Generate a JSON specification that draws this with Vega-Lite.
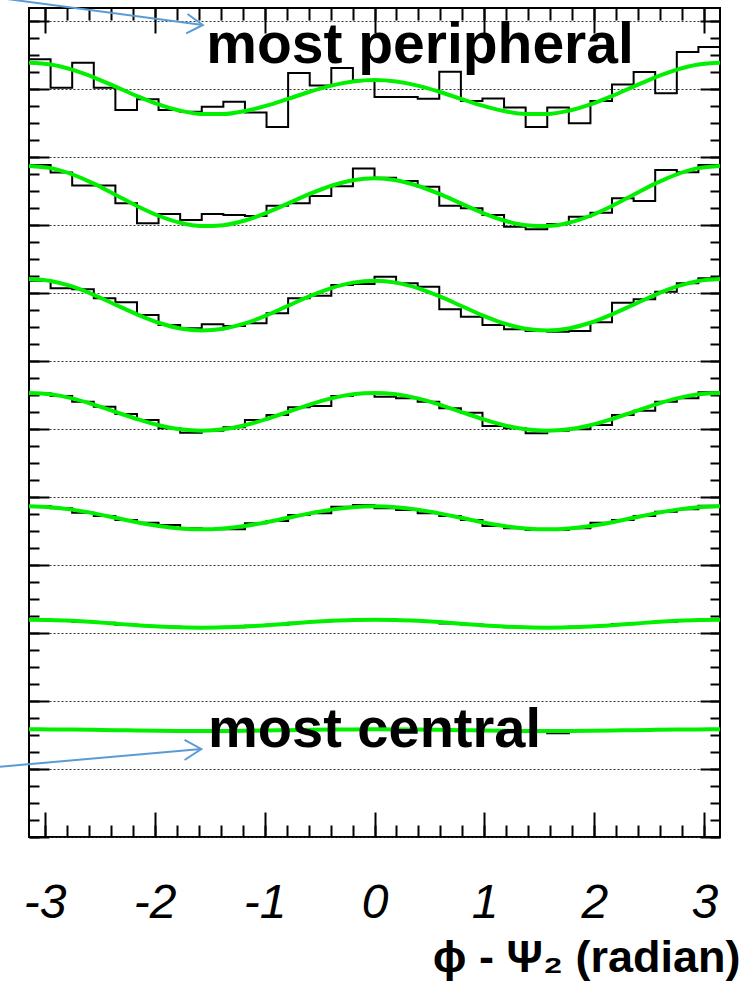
{
"$schema": "https://vega.github.io/schema/vega-lite/v6.json",
"width": 691, "height": 829,
"autosize": {"type": "none"},
"padding": {"left": 29, "top": 8, "right": 23, "bottom": 151},
"background": "white",
"config": {"view": {"stroke": "black", "strokeWidth": 2}, "axis": {"tickColor": "black", "tickWidth": 2, "domain": false, "labels": false, "grid": false}},
"datasets": {
"hist": [
{"b":1,"x":-3.1416,"y":11.432},{"b":1,"x":-2.9452,"y":11.014},{"b":1,"x":-2.7489,"y":11.382},{"b":1,"x":-2.5525,"y":11.014},{"b":1,"x":-2.3562,"y":10.686},{"b":1,"x":-2.1598,"y":10.844},{"b":1,"x":-1.9635,"y":10.686},{"b":1,"x":-1.7671,"y":10.661},{"b":1,"x":-1.5708,"y":10.735},{"b":1,"x":-1.3744,"y":10.808},{"b":1,"x":-1.1781,"y":10.649},{"b":1,"x":-0.9817,"y":10.436},{"b":1,"x":-0.7854,"y":11.230},{"b":1,"x":-0.589,"y":11.046},{"b":1,"x":-0.3927,"y":11.304},{"b":1,"x":-0.1963,"y":11.120},{"b":1,"x":0,"y":10.877},{"b":1,"x":0.1963,"y":10.877},{"b":1,"x":0.3927,"y":10.852},{"b":1,"x":0.589,"y":11.249},{"b":1,"x":0.7854,"y":10.818},{"b":1,"x":0.9817,"y":10.855},{"b":1,"x":1.1781,"y":10.723},{"b":1,"x":1.3744,"y":10.436},{"b":1,"x":1.5708,"y":10.723},{"b":1,"x":1.7671,"y":10.491},{"b":1,"x":1.9635,"y":10.818},{"b":1,"x":2.1598,"y":11.061},{"b":1,"x":2.3562,"y":11.245},{"b":1,"x":2.5525,"y":10.932},{"b":1,"x":2.7489,"y":11.539},{"b":1,"x":2.9452,"y":11.612},{"b":1,"x":3.1416,"y":11.612},
{"b":2,"x":-3.1416,"y":9.878},{"b":2,"x":-2.9452,"y":9.768},{"b":2,"x":-2.7489,"y":9.577},{"b":2,"x":-2.5525,"y":9.577},{"b":2,"x":-2.3562,"y":9.315},{"b":2,"x":-2.1598,"y":9.021},{"b":2,"x":-1.9635,"y":9.158},{"b":2,"x":-1.7671,"y":9.069},{"b":2,"x":-1.5708,"y":9.158},{"b":2,"x":-1.3744,"y":9.143},{"b":2,"x":-1.1781,"y":9.128},{"b":2,"x":-0.9817,"y":9.280},{"b":2,"x":-0.7854,"y":9.315},{"b":2,"x":-0.589,"y":9.422},{"b":2,"x":-0.3927,"y":9.566},{"b":2,"x":-0.1963,"y":9.826},{"b":2,"x":0,"y":9.690},{"b":2,"x":0.1963,"y":9.643},{"b":2,"x":0.3927,"y":9.559},{"b":2,"x":0.589,"y":9.280},{"b":2,"x":0.7854,"y":9.241},{"b":2,"x":0.9817,"y":9.143},{"b":2,"x":1.1781,"y":8.971},{"b":2,"x":1.3744,"y":8.933},{"b":2,"x":1.5708,"y":9.011},{"b":2,"x":1.7671,"y":9.118},{"b":2,"x":1.9635,"y":9.177},{"b":2,"x":2.1598,"y":9.388},{"b":2,"x":2.3562,"y":9.349},{"b":2,"x":2.5525,"y":9.804},{"b":2,"x":2.7489,"y":9.771},{"b":2,"x":2.9452,"y":9.878},{"b":2,"x":3.1416,"y":9.878},
{"b":3,"x":-3.1416,"y":8.177},{"b":3,"x":-2.9452,"y":8.065},{"b":3,"x":-2.7489,"y":8.051},{"b":3,"x":-2.5525,"y":7.918},{"b":3,"x":-2.3562,"y":7.860},{"b":3,"x":-2.1598,"y":7.673},{"b":3,"x":-1.9635,"y":7.526},{"b":3,"x":-1.7671,"y":7.477},{"b":3,"x":-1.5708,"y":7.536},{"b":3,"x":-1.3744,"y":7.511},{"b":3,"x":-1.1781,"y":7.551},{"b":3,"x":-0.9817,"y":7.698},{"b":3,"x":-0.7854,"y":7.918},{"b":3,"x":-0.589,"y":7.957},{"b":3,"x":-0.3927,"y":8.114},{"b":3,"x":-0.1963,"y":8.129},{"b":3,"x":0,"y":8.236},{"b":3,"x":0.1963,"y":8.139},{"b":3,"x":0.3927,"y":8.089},{"b":3,"x":0.589,"y":7.757},{"b":3,"x":0.7854,"y":7.648},{"b":3,"x":0.9817,"y":7.526},{"b":3,"x":1.1781,"y":7.463},{"b":3,"x":1.3744,"y":7.438},{"b":3,"x":1.5708,"y":7.428},{"b":3,"x":1.7671,"y":7.438},{"b":3,"x":1.9635,"y":7.566},{"b":3,"x":2.1598,"y":7.854},{"b":3,"x":2.3562,"y":7.904},{"b":3,"x":2.5525,"y":8.015},{"b":3,"x":2.7489,"y":8.139},{"b":3,"x":2.9452,"y":8.212},{"b":3,"x":3.1416,"y":8.212},
{"b":4,"x":-3.1416,"y":6.522},{"b":4,"x":-2.9452,"y":6.482},{"b":4,"x":-2.7489,"y":6.399},{"b":4,"x":-2.5525,"y":6.325},{"b":4,"x":-2.3562,"y":6.218},{"b":4,"x":-2.1598,"y":6.130},{"b":4,"x":-1.9635,"y":6.008},{"b":4,"x":-1.7671,"y":5.943},{"b":4,"x":-1.5708,"y":5.972},{"b":4,"x":-1.3744,"y":6.022},{"b":4,"x":-1.1781,"y":6.130},{"b":4,"x":-0.9817,"y":6.203},{"b":4,"x":-0.7854,"y":6.316},{"b":4,"x":-0.589,"y":6.335},{"b":4,"x":-0.3927,"y":6.482},{"b":4,"x":-0.1963,"y":6.512},{"b":4,"x":0,"y":6.472},{"b":4,"x":0.1963,"y":6.448},{"b":4,"x":0.3927,"y":6.399},{"b":4,"x":0.589,"y":6.301},{"b":4,"x":0.7854,"y":6.237},{"b":4,"x":0.9817,"y":6.041},{"b":4,"x":1.1781,"y":6.008},{"b":4,"x":1.3744,"y":5.934},{"b":4,"x":1.5708,"y":5.972},{"b":4,"x":1.7671,"y":5.993},{"b":4,"x":1.9635,"y":6.056},{"b":4,"x":2.1598,"y":6.203},{"b":4,"x":2.3562,"y":6.266},{"b":4,"x":2.5525,"y":6.399},{"b":4,"x":2.7489,"y":6.448},{"b":4,"x":2.9452,"y":6.537},{"b":4,"x":3.1416,"y":6.537},
{"b":5,"x":-3.1416,"y":4.865},{"b":5,"x":-2.9452,"y":4.832},{"b":5,"x":-2.7489,"y":4.767},{"b":5,"x":-2.5525,"y":4.718},{"b":5,"x":-2.3562,"y":4.660},{"b":5,"x":-2.1598,"y":4.620},{"b":5,"x":-1.9635,"y":4.586},{"b":5,"x":-1.7671,"y":4.538},{"b":5,"x":-1.5708,"y":4.523},{"b":5,"x":-1.3744,"y":4.523},{"b":5,"x":-1.1781,"y":4.611},{"b":5,"x":-0.9817,"y":4.645},{"b":5,"x":-0.7854,"y":4.733},{"b":5,"x":-0.589,"y":4.758},{"b":5,"x":-0.3927,"y":4.855},{"b":5,"x":-0.1963,"y":4.880},{"b":5,"x":0,"y":4.832},{"b":5,"x":0.1963,"y":4.807},{"b":5,"x":0.3927,"y":4.758},{"b":5,"x":0.589,"y":4.718},{"b":5,"x":0.7854,"y":4.660},{"b":5,"x":0.9817,"y":4.571},{"b":5,"x":1.1781,"y":4.538},{"b":5,"x":1.3744,"y":4.513},{"b":5,"x":1.5708,"y":4.513},{"b":5,"x":1.7671,"y":4.538},{"b":5,"x":1.9635,"y":4.620},{"b":5,"x":2.1598,"y":4.660},{"b":5,"x":2.3562,"y":4.718},{"b":5,"x":2.5525,"y":4.782},{"b":5,"x":2.7489,"y":4.817},{"b":5,"x":2.9452,"y":4.870},{"b":5,"x":3.1416,"y":4.870},
{"b":6,"x":-3.1416,"y":3.19},{"b":6,"x":-2.9452,"y":3.19},{"b":6,"x":-2.7489,"y":3.165},{"b":6,"x":-2.5525,"y":3.15},{"b":6,"x":-2.3562,"y":3.12},{"b":6,"x":-2.1598,"y":3.10},{"b":6,"x":-1.9635,"y":3.09},{"b":6,"x":-1.7671,"y":3.075},{"b":6,"x":-1.5708,"y":3.08},{"b":6,"x":-1.3744,"y":3.085},{"b":6,"x":-1.1781,"y":3.105},{"b":6,"x":-0.9817,"y":3.12},{"b":6,"x":-0.7854,"y":3.15},{"b":6,"x":-0.589,"y":3.17},{"b":6,"x":-0.3927,"y":3.18},{"b":6,"x":-0.1963,"y":3.205},{"b":6,"x":0,"y":3.19},{"b":6,"x":0.1963,"y":3.18},{"b":6,"x":0.3927,"y":3.175},{"b":6,"x":0.589,"y":3.14},{"b":6,"x":0.7854,"y":3.125},{"b":6,"x":0.9817,"y":3.1},{"b":6,"x":1.1781,"y":3.085},{"b":6,"x":1.3744,"y":3.08},{"b":6,"x":1.5708,"y":3.075},{"b":6,"x":1.7671,"y":3.09},{"b":6,"x":1.9635,"y":3.1},{"b":6,"x":2.1598,"y":3.13},{"b":6,"x":2.3562,"y":3.145},{"b":6,"x":2.5525,"y":3.165},{"b":6,"x":2.7489,"y":3.19},{"b":6,"x":2.9452,"y":3.195},{"b":6,"x":3.1416,"y":3.195},
{"b":7,"x":-3.1416,"y":1.582},{"b":7,"x":-2.9452,"y":1.580},{"b":7,"x":-2.7489,"y":1.577},{"b":7,"x":-2.5525,"y":1.572},{"b":7,"x":-2.3562,"y":1.568},{"b":7,"x":-2.1598,"y":1.564},{"b":7,"x":-1.9635,"y":1.560},{"b":7,"x":-1.7671,"y":1.559},{"b":7,"x":-1.5708,"y":1.558},{"b":7,"x":-1.3744,"y":1.560},{"b":7,"x":-1.1781,"y":1.563},{"b":7,"x":-0.9817,"y":1.568},{"b":7,"x":-0.7854,"y":1.573},{"b":7,"x":-0.589,"y":1.577},{"b":7,"x":-0.3927,"y":1.580},{"b":7,"x":-0.1963,"y":1.583},{"b":7,"x":0,"y":1.582},{"b":7,"x":0.1963,"y":1.581},{"b":7,"x":0.3927,"y":1.576},{"b":7,"x":0.589,"y":1.573},{"b":7,"x":0.7854,"y":1.567},{"b":7,"x":0.9817,"y":1.563},{"b":7,"x":1.1781,"y":1.561},{"b":7,"x":1.3744,"y":1.558},{"b":7,"x":1.5708,"y":1.525},{"b":7,"x":1.7671,"y":1.561},{"b":7,"x":1.9635,"y":1.564},{"b":7,"x":2.1598,"y":1.567},{"b":7,"x":2.3562,"y":1.573},{"b":7,"x":2.5525,"y":1.578},{"b":7,"x":2.7489,"y":1.581},{"b":7,"x":2.9452,"y":1.583},{"b":7,"x":3.1416,"y":1.583}
],
"fit": [
{"b":1,"x":-3.1416,"y":11.382},{"b":1,"x":-2.9452,"y":11.356},{"b":1,"x":-2.7489,"y":11.280},{"b":1,"x":-2.5525,"y":11.167},{"b":1,"x":-2.3562,"y":11.031},{"b":1,"x":-2.1598,"y":10.892},{"b":1,"x":-1.9635,"y":10.768},{"b":1,"x":-1.7671,"y":10.676},{"b":1,"x":-1.5708,"y":10.628},{"b":1,"x":-1.3744,"y":10.627},{"b":1,"x":-1.1781,"y":10.671},{"b":1,"x":-0.9817,"y":10.750},{"b":1,"x":-0.7854,"y":10.851},{"b":1,"x":-0.589,"y":10.955},{"b":1,"x":-0.3927,"y":11.045},{"b":1,"x":-0.1963,"y":11.105},{"b":1,"x":0,"y":11.127},{"b":1,"x":0.1963,"y":11.105},{"b":1,"x":0.3927,"y":11.045},{"b":1,"x":0.589,"y":10.955},{"b":1,"x":0.7854,"y":10.851},{"b":1,"x":0.9817,"y":10.750},{"b":1,"x":1.1781,"y":10.671},{"b":1,"x":1.3744,"y":10.627},{"b":1,"x":1.5708,"y":10.628},{"b":1,"x":1.7671,"y":10.676},{"b":1,"x":1.9635,"y":10.768},{"b":1,"x":2.1598,"y":10.892},{"b":1,"x":2.3562,"y":11.031},{"b":1,"x":2.5525,"y":11.167},{"b":1,"x":2.7489,"y":11.280},{"b":1,"x":2.9452,"y":11.356},{"b":1,"x":3.1416,"y":11.382},
{"b":2,"x":-3.1416,"y":9.864},{"b":2,"x":-2.9452,"y":9.832},{"b":2,"x":-2.7489,"y":9.741},{"b":2,"x":-2.5525,"y":9.604},{"b":2,"x":-2.3562,"y":9.441},{"b":2,"x":-2.1598,"y":9.276},{"b":2,"x":-1.9635,"y":9.132},{"b":2,"x":-1.7671,"y":9.029},{"b":2,"x":-1.5708,"y":8.981},{"b":2,"x":-1.3744,"y":8.994},{"b":2,"x":-1.1781,"y":9.062},{"b":2,"x":-0.9817,"y":9.175},{"b":2,"x":-0.7854,"y":9.313},{"b":2,"x":-0.589,"y":9.453},{"b":2,"x":-0.3927,"y":9.573},{"b":2,"x":-0.1963,"y":9.654},{"b":2,"x":0,"y":9.683},{"b":2,"x":0.1963,"y":9.654},{"b":2,"x":0.3927,"y":9.573},{"b":2,"x":0.589,"y":9.453},{"b":2,"x":0.7854,"y":9.313},{"b":2,"x":0.9817,"y":9.175},{"b":2,"x":1.1781,"y":9.062},{"b":2,"x":1.3744,"y":8.994},{"b":2,"x":1.5708,"y":8.981},{"b":2,"x":1.7671,"y":9.029},{"b":2,"x":1.9635,"y":9.132},{"b":2,"x":2.1598,"y":9.276},{"b":2,"x":2.3562,"y":9.441},{"b":2,"x":2.5525,"y":9.604},{"b":2,"x":2.7489,"y":9.741},{"b":2,"x":2.9452,"y":9.832},{"b":2,"x":3.1416,"y":9.864},
{"b":3,"x":-3.1416,"y":8.203},{"b":3,"x":-2.9452,"y":8.174},{"b":3,"x":-2.7489,"y":8.093},{"b":3,"x":-2.5525,"y":7.970},{"b":3,"x":-2.3562,"y":7.826},{"b":3,"x":-2.1598,"y":7.682},{"b":3,"x":-1.9635,"y":7.559},{"b":3,"x":-1.7671,"y":7.476},{"b":3,"x":-1.5708,"y":7.445},{"b":3,"x":-1.3744,"y":7.471},{"b":3,"x":-1.1781,"y":7.549},{"b":3,"x":-0.9817,"y":7.668},{"b":3,"x":-0.7854,"y":7.809},{"b":3,"x":-0.589,"y":7.950},{"b":3,"x":-0.3927,"y":8.069},{"b":3,"x":-0.1963,"y":8.149},{"b":3,"x":0,"y":8.178},{"b":3,"x":0.1963,"y":8.149},{"b":3,"x":0.3927,"y":8.069},{"b":3,"x":0.589,"y":7.950},{"b":3,"x":0.7854,"y":7.809},{"b":3,"x":0.9817,"y":7.668},{"b":3,"x":1.1781,"y":7.549},{"b":3,"x":1.3744,"y":7.471},{"b":3,"x":1.5708,"y":7.445},{"b":3,"x":1.7671,"y":7.476},{"b":3,"x":1.9635,"y":7.559},{"b":3,"x":2.1598,"y":7.682},{"b":3,"x":2.3562,"y":7.826},{"b":3,"x":2.5525,"y":7.970},{"b":3,"x":2.7489,"y":8.093},{"b":3,"x":2.9452,"y":8.174},{"b":3,"x":3.1416,"y":8.203},
{"b":4,"x":-3.1416,"y":6.528},{"b":4,"x":-2.9452,"y":6.507},{"b":4,"x":-2.7489,"y":6.447},{"b":4,"x":-2.5525,"y":6.356},{"b":4,"x":-2.3562,"y":6.25},{"b":4,"x":-2.1598,"y":6.144},{"b":4,"x":-1.9635,"y":6.053},{"b":4,"x":-1.7671,"y":5.993},{"b":4,"x":-1.5708,"y":5.972},{"b":4,"x":-1.3744,"y":5.993},{"b":4,"x":-1.1781,"y":6.053},{"b":4,"x":-0.9817,"y":6.144},{"b":4,"x":-0.7854,"y":6.25},{"b":4,"x":-0.589,"y":6.356},{"b":4,"x":-0.3927,"y":6.447},{"b":4,"x":-0.1963,"y":6.507},{"b":4,"x":0,"y":6.528},{"b":4,"x":0.1963,"y":6.507},{"b":4,"x":0.3927,"y":6.447},{"b":4,"x":0.589,"y":6.356},{"b":4,"x":0.7854,"y":6.25},{"b":4,"x":0.9817,"y":6.144},{"b":4,"x":1.1781,"y":6.053},{"b":4,"x":1.3744,"y":5.993},{"b":4,"x":1.5708,"y":5.972},{"b":4,"x":1.7671,"y":5.993},{"b":4,"x":1.9635,"y":6.053},{"b":4,"x":2.1598,"y":6.144},{"b":4,"x":2.3562,"y":6.25},{"b":4,"x":2.5525,"y":6.356},{"b":4,"x":2.7489,"y":6.447},{"b":4,"x":2.9452,"y":6.507},{"b":4,"x":3.1416,"y":6.528},
{"b":5,"x":-3.1416,"y":4.861},{"b":5,"x":-2.9452,"y":4.848},{"b":5,"x":-2.7489,"y":4.812},{"b":5,"x":-2.5525,"y":4.757},{"b":5,"x":-2.3562,"y":4.692},{"b":5,"x":-2.1598,"y":4.627},{"b":5,"x":-1.9635,"y":4.573},{"b":5,"x":-1.7671,"y":4.536},{"b":5,"x":-1.5708,"y":4.523},{"b":5,"x":-1.3744,"y":4.536},{"b":5,"x":-1.1781,"y":4.573},{"b":5,"x":-0.9817,"y":4.627},{"b":5,"x":-0.7854,"y":4.692},{"b":5,"x":-0.589,"y":4.757},{"b":5,"x":-0.3927,"y":4.812},{"b":5,"x":-0.1963,"y":4.848},{"b":5,"x":0,"y":4.861},{"b":5,"x":0.1963,"y":4.848},{"b":5,"x":0.3927,"y":4.812},{"b":5,"x":0.589,"y":4.757},{"b":5,"x":0.7854,"y":4.692},{"b":5,"x":0.9817,"y":4.627},{"b":5,"x":1.1781,"y":4.573},{"b":5,"x":1.3744,"y":4.536},{"b":5,"x":1.5708,"y":4.523},{"b":5,"x":1.7671,"y":4.536},{"b":5,"x":1.9635,"y":4.573},{"b":5,"x":2.1598,"y":4.627},{"b":5,"x":2.3562,"y":4.692},{"b":5,"x":2.5525,"y":4.757},{"b":5,"x":2.7489,"y":4.812},{"b":5,"x":2.9452,"y":4.848},{"b":5,"x":3.1416,"y":4.861},
{"b":6,"x":-3.1416,"y":3.195},{"b":6,"x":-2.9452,"y":3.191},{"b":6,"x":-2.7489,"y":3.178},{"b":6,"x":-2.5525,"y":3.159},{"b":6,"x":-2.3562,"y":3.136},{"b":6,"x":-2.1598,"y":3.113},{"b":6,"x":-1.9635,"y":3.094},{"b":6,"x":-1.7671,"y":3.082},{"b":6,"x":-1.5708,"y":3.077},{"b":6,"x":-1.3744,"y":3.082},{"b":6,"x":-1.1781,"y":3.094},{"b":6,"x":-0.9817,"y":3.113},{"b":6,"x":-0.7854,"y":3.136},{"b":6,"x":-0.589,"y":3.159},{"b":6,"x":-0.3927,"y":3.178},{"b":6,"x":-0.1963,"y":3.191},{"b":6,"x":0,"y":3.195},{"b":6,"x":0.1963,"y":3.191},{"b":6,"x":0.3927,"y":3.178},{"b":6,"x":0.589,"y":3.159},{"b":6,"x":0.7854,"y":3.136},{"b":6,"x":0.9817,"y":3.113},{"b":6,"x":1.1781,"y":3.094},{"b":6,"x":1.3744,"y":3.082},{"b":6,"x":1.5708,"y":3.077},{"b":6,"x":1.7671,"y":3.082},{"b":6,"x":1.9635,"y":3.094},{"b":6,"x":2.1598,"y":3.113},{"b":6,"x":2.3562,"y":3.136},{"b":6,"x":2.5525,"y":3.159},{"b":6,"x":2.7489,"y":3.178},{"b":6,"x":2.9452,"y":3.191},{"b":6,"x":3.1416,"y":3.195},
{"b":7,"x":-3.1416,"y":1.583},{"b":7,"x":-2.9452,"y":1.582},{"b":7,"x":-2.7489,"y":1.579},{"b":7,"x":-2.5525,"y":1.575},{"b":7,"x":-2.3562,"y":1.571},{"b":7,"x":-2.1598,"y":1.566},{"b":7,"x":-1.9635,"y":1.562},{"b":7,"x":-1.7671,"y":1.559},{"b":7,"x":-1.5708,"y":1.558},{"b":7,"x":-1.3744,"y":1.559},{"b":7,"x":-1.1781,"y":1.562},{"b":7,"x":-0.9817,"y":1.566},{"b":7,"x":-0.7854,"y":1.571},{"b":7,"x":-0.589,"y":1.575},{"b":7,"x":-0.3927,"y":1.579},{"b":7,"x":-0.1963,"y":1.582},{"b":7,"x":0,"y":1.583},{"b":7,"x":0.1963,"y":1.582},{"b":7,"x":0.3927,"y":1.579},{"b":7,"x":0.589,"y":1.575},{"b":7,"x":0.7854,"y":1.571},{"b":7,"x":0.9817,"y":1.566},{"b":7,"x":1.1781,"y":1.562},{"b":7,"x":1.3744,"y":1.559},{"b":7,"x":1.5708,"y":1.558},{"b":7,"x":1.7671,"y":1.559},{"b":7,"x":1.9635,"y":1.562},{"b":7,"x":2.1598,"y":1.566},{"b":7,"x":2.3562,"y":1.571},{"b":7,"x":2.5525,"y":1.575},{"b":7,"x":2.7489,"y":1.579},{"b":7,"x":2.9452,"y":1.582},{"b":7,"x":3.1416,"y":1.583}
],
"arrows": [
{"s":"a1","o":0,"x":-3.409,"y":12.333},{"s":"a1","o":1,"x":-1.561,"y":11.936},
{"s":"h1","o":0,"x":-1.700,"y":12.098},{"s":"h1","o":1,"x":-1.561,"y":11.936},{"s":"h1","o":2,"x":-1.712,"y":11.814},
{"s":"a2","o":0,"x":-3.409,"y":1.033},{"s":"a2","o":1,"x":-1.575,"y":1.294},
{"s":"h2","o":0,"x":-1.727,"y":1.426},{"s":"h2","o":1,"x":-1.575,"y":1.294},{"s":"h2","o":2,"x":-1.727,"y":1.132}
]
},
"resolve": {"axis": {"x": "independent", "y": "independent"}},
"layer": [
{
"data": {"name": "hist"},
"mark": {"type": "line", "interpolate": "step-after", "color": "black", "strokeWidth": 2},
"encoding": {
"x": {"field": "x", "type": "quantitative", "scale": {"domain": [-3.1416, 3.1416], "nice": false, "zero": false},
 "axis": {"orient": "bottom", "values": [-3,-2,-1,0,1,2,3], "tickSize": -25, "labels": false, "domain": false, "grid": false, "title": null}},
"y": {"field": "y", "type": "quantitative", "scale": {"domain": [0, 12.186], "nice": false, "zero": false},
 "axis": {"orient": "left", "values": [0,1,2,3,4,5,6,7,8,9,10,11,12], "tickSize": -20, "labels": false, "domain": false, "grid": true, "gridDash": [2,2], "gridColor": "#333333", "gridWidth": 1, "title": null}},
"detail": {"field": "b", "type": "nominal"}
}
},
{
"data": {"name": "fit"},
"mark": {"type": "line", "interpolate": "monotone", "color": "#00f000", "strokeWidth": 4},
"encoding": {
"x": {"field": "x", "type": "quantitative", "scale": {"domain": [-3.1416, 3.1416], "nice": false, "zero": false},
 "axis": {"orient": "bottom", "values": [-3,-2.8,-2.6,-2.4,-2.2,-2,-1.8,-1.6,-1.4,-1.2,-1,-0.8,-0.6,-0.4,-0.2,0,0.2,0.4,0.6,0.8,1,1.2,1.4,1.6,1.8,2,2.2,2.4,2.6,2.8,3], "tickSize": -12, "labels": false, "domain": false, "grid": false, "title": null}},
"y": {"field": "y", "type": "quantitative", "scale": {"domain": [0, 12.186], "nice": false, "zero": false},
 "axis": {"orient": "left", "values": [0,0.25,0.5,0.75,1,1.25,1.5,1.75,2,2.25,2.5,2.75,3,3.25,3.5,3.75,4,4.25,4.5,4.75,5,5.25,5.5,5.75,6,6.25,6.5,6.75,7,7.25,7.5,7.75,8,8.25,8.5,8.75,9,9.25,9.5,9.75,10,10.25,10.5,10.75,11,11.25,11.5,11.75,12], "tickSize": -10, "labels": false, "domain": false, "grid": false, "title": null}},
"detail": {"field": "b", "type": "nominal"}
}
},
{
"data": {"values": [{"x": 0.414, "y": 11.377, "t": "most peripheral"}]},
"mark": {"type": "text", "font": "Liberation Sans", "fontWeight": "bold", "fontSize": 57, "align": "center", "baseline": "alphabetic", "color": "black"},
"encoding": {
"x": {"field": "x", "type": "quantitative", "scale": {"domain": [-3.1416, 3.1416], "nice": false, "zero": false},
 "axis": {"orient": "top", "values": [-3,-2,-1,0,1,2,3], "tickSize": -25, "labels": false, "domain": false, "grid": false, "title": null}},
"y": {"field": "y", "type": "quantitative", "scale": {"domain": [0, 12.186], "nice": false, "zero": false},
 "axis": {"orient": "right", "values": [0,1,2,3,4,5,6,7,8,9,10,11,12], "tickSize": -20, "labels": false, "domain": false, "grid": false, "title": null}},
"text": {"field": "t"}
}
},
{
"data": {"values": [{"x": 0, "y": 1.327, "t": "most central"}]},
"mark": {"type": "text", "font": "Liberation Sans", "fontWeight": "bold", "fontSize": 56, "align": "center", "baseline": "alphabetic", "color": "black"},
"encoding": {
"x": {"field": "x", "type": "quantitative", "scale": {"domain": [-3.1416, 3.1416], "nice": false, "zero": false},
 "axis": {"orient": "top", "values": [-3,-2.8,-2.6,-2.4,-2.2,-2,-1.8,-1.6,-1.4,-1.2,-1,-0.8,-0.6,-0.4,-0.2,0,0.2,0.4,0.6,0.8,1,1.2,1.4,1.6,1.8,2,2.2,2.4,2.6,2.8,3], "tickSize": -12, "labels": false, "domain": false, "grid": false, "title": null}},
"y": {"field": "y", "type": "quantitative", "scale": {"domain": [0, 12.186], "nice": false, "zero": false},
 "axis": {"orient": "right", "values": [0,0.25,0.5,0.75,1,1.25,1.5,1.75,2,2.25,2.5,2.75,3,3.25,3.5,3.75,4,4.25,4.5,4.75,5,5.25,5.5,5.75,6,6.25,6.5,6.75,7,7.25,7.5,7.75,8,8.25,8.5,8.75,9,9.25,9.5,9.75,10,10.25,10.5,10.75,11,11.25,11.5,11.75,12], "tickSize": -10, "labels": false, "domain": false, "grid": false, "title": null}},
"text": {"field": "t"}
}
},
{
"data": {"name": "arrows"},
"mark": {"type": "line", "color": "#5b9bd5", "strokeWidth": 2, "clip": false},
"encoding": {
"x": {"field": "x", "type": "quantitative", "scale": {"domain": [-3.1416, 3.1416], "nice": false, "zero": false},
 "axis": {"orient": "bottom", "values": [-3,-2,-1,0,1,2,3], "ticks": false, "domain": false, "grid": false, "labels": true,
  "labelExpr": "datum.value < 0 ? '-' + abs(datum.value) : '' + datum.value",
  "labelFont": "Liberation Sans", "labelFontStyle": "italic", "labelFontSize": 48, "labelColor": "black", "labelPadding": 42, "labelFlush": false, "labelOverlap": false,
  "title": "ϕ - Ψ₂ (radian)", "titleFont": "Liberation Sans", "titleFontWeight": "bold", "titleFontSize": 45, "titleColor": "black",
  "titleX": 711, "titleY": 98, "titleAlign": "right", "titleBaseline": "top", "titleAnchor": "end"}},
"y": {"field": "y", "type": "quantitative", "scale": {"domain": [0, 12.186], "nice": false, "zero": false}, "axis": null},
"detail": {"field": "s", "type": "nominal"},
"order": {"field": "o", "type": "quantitative"}
}
}
]
}
